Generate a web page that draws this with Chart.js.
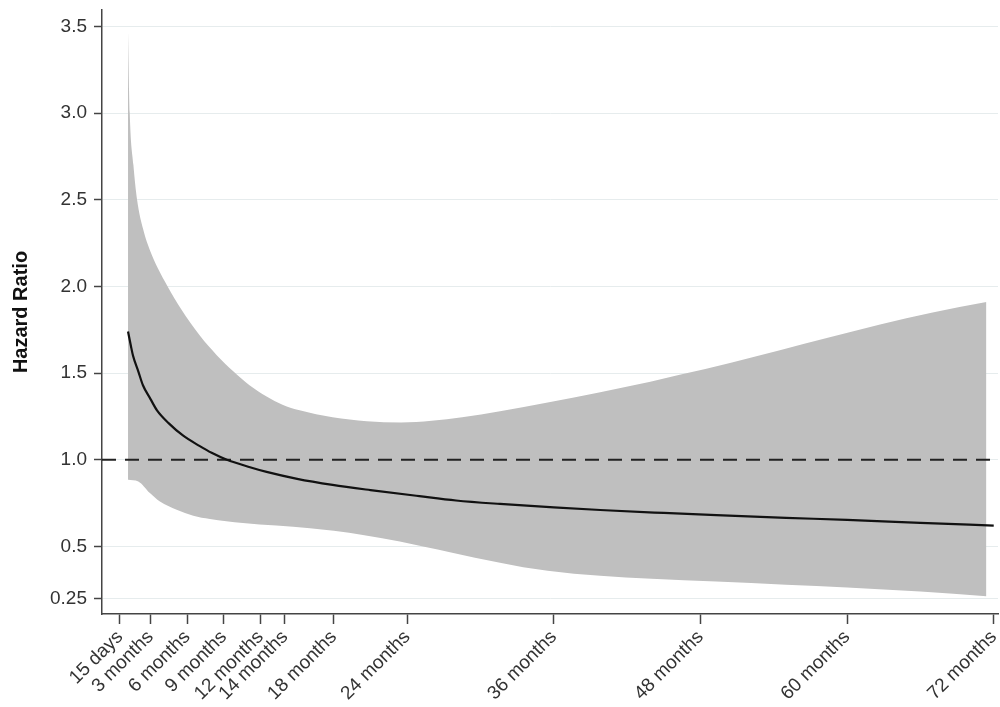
<!DOCTYPE html>
<html>
<head>
<meta charset="utf-8">
<script src="https://cdn.jsdelivr.net/npm/chart.js@4"></script>
<style>
  body { margin: 0; background: #fff; }
  #wrap { width: 1000px; height: 707px; }
</style>
</head>
<body>
<div id="wrap"><canvas id="hrChart"></canvas></div>
<script>
// x in months since start
const hrMonths = [1.16, 1.4, 1.57, 2.0, 2.38, 3.0, 3.53, 4.5, 5.65, 7.0, 8.0, 9.25, 11.0, 12.5, 15.0, 17.9, 21.0, 25.0, 28.0, 31.6, 36.0, 39.8, 45.0, 49.3, 55.0, 60.0, 66.0, 72.0];
const hrValues = [1.74, 1.655, 1.60, 1.51, 1.43, 1.35, 1.285, 1.21, 1.14, 1.08, 1.04, 1.0, 0.96, 0.93, 0.89, 0.855, 0.825, 0.79, 0.765, 0.745, 0.725, 0.71, 0.693, 0.68, 0.665, 0.653, 0.636, 0.62];

const upperMonths = [1.16, 1.3, 1.6, 1.9, 2.4, 3.0, 3.6, 4.4, 5.5, 7.05, 8.4, 9.77, 11.1, 12.5, 13.8, 15.2, 17.9, 20.7, 23.5, 26.0, 28.5, 31.6, 35.5, 39.8, 43.9, 46.3, 50.5, 54.5, 58.5, 62.7, 67.0, 71.4];
const upperValues = [3.47, 3.0, 2.7, 2.5, 2.33, 2.2, 2.105, 2.0, 1.87, 1.715, 1.605, 1.51, 1.43, 1.365, 1.318, 1.285, 1.245, 1.222, 1.215, 1.225, 1.245, 1.28, 1.33, 1.39, 1.45, 1.49, 1.56, 1.632, 1.705, 1.78, 1.85, 1.91];

const lowerMonths = [1.16, 2.0, 2.95, 3.77, 5.14, 6.5, 7.86, 10.56, 13.3, 16.05, 18.0, 20.5, 23.4, 25.5, 27.5, 31.6, 33.5, 35.5, 39.8, 44.0, 49.3, 55.0, 60.0, 66.0, 71.4];
const lowerValues = [0.885, 0.875, 0.808, 0.759, 0.712, 0.677, 0.658, 0.635, 0.62, 0.605, 0.59, 0.565, 0.528, 0.497, 0.467, 0.405, 0.38, 0.36, 0.33, 0.313, 0.297, 0.279, 0.263, 0.24, 0.213];

const xTickValues = [0.5, 3, 6, 9, 12, 14, 18, 24, 36, 48, 60, 72];
const xTickLabels = ['15 days', '3 months', '6 months', '9 months', '12 months', '14 months', '18 months', '24 months', '36 months', '48 months', '60 months', '72 months'];
const yTickValues = [0.2, 0.5, 1.0, 1.5, 2.0, 2.5, 3.0, 3.5];
const yTickLabels = ['0.25', '0.5', '1.0', '1.5', '2.0', '2.5', '3.0', '3.5'];
const refLevel = 1.0;

const X_MIN = -0.97, X_MAX = 72.35;

function pts(xs, ys) {
    return xs.map((x, i) => ({ x: x, y: ys[i] }));
}

const axisColor = '#444';
const textColor = '#333';
const fontFamily = 'Liberation Sans, Arial, sans-serif';

new Chart(document.getElementById('hrChart'), {
    type: 'line',
    data: {
        datasets: [
            {
                label: 'lower',
                data: pts(lowerMonths, lowerValues),
                borderWidth: 0,
                pointRadius: 0,
                fill: false,
                cubicInterpolationMode: 'monotone'
            },
            {
                label: 'upper',
                data: pts(upperMonths, upperValues),
                borderWidth: 0,
                pointRadius: 0,
                backgroundColor: '#bfbfbf',
                fill: '-1',
                cubicInterpolationMode: 'monotone'
            },
            {
                label: 'Hazard Ratio',
                data: pts(hrMonths, hrValues),
                borderColor: '#111',
                borderWidth: 2.2,
                pointRadius: 0,
                fill: false,
                cubicInterpolationMode: 'monotone'
            },
            {
                label: 'ref',
                data: [{ x: X_MIN, y: refLevel }, { x: X_MAX, y: refLevel }],
                borderColor: '#222',
                borderWidth: 2,
                borderDash: [14, 9],
                pointRadius: 0,
                fill: false
            }
        ]
    },
    options: {
        responsive: true,
        maintainAspectRatio: false,
        animation: false,
        layout: { padding: { top: 10, right: 2, left: 0, bottom: 0 } },
        scales: {
            x: {
                type: 'linear',
                min: X_MIN,
                max: X_MAX,
                afterBuildTicks: (axis) => { axis.ticks = xTickValues.map(v => ({ value: v })); },
                afterFit: (axis) => {
                    axis.height = 93;
                    axis.paddingLeft = 0;
                    axis.paddingRight = 0;
                },
                ticks: {
                    autoSkip: false,
                    minRotation: 45,
                    maxRotation: 45,
                    padding: 2,
                    color: textColor,
                    font: { family: fontFamily, size: 19 },
                    callback: (value, index) => xTickLabels[index]
                },
                grid: { drawOnChartArea: false, tickLength: 10, tickColor: axisColor, tickWidth: 1.5 },
                border: { color: axisColor, width: 1.5 }
            },
            y: {
                min: 0.11,
                max: 3.595,
                afterBuildTicks: (axis) => { axis.ticks = yTickValues.map(v => ({ value: v })); },
                afterFit: (axis) => {
                    axis.width = 102;
                    axis.paddingTop = 0;
                    axis.paddingBottom = 0;
                },
                ticks: {
                    autoSkip: false,
                    padding: 7,
                    color: textColor,
                    font: { family: fontFamily, size: 19 },
                    callback: (value, index) => yTickLabels[index]
                },
                grid: { color: '#e6eced', lineWidth: 1, tickLength: 8, tickColor: axisColor, tickWidth: 1.5 },
                border: { color: axisColor, width: 1.5 },
                title: {
                    display: true,
                    text: 'Hazard Ratio',
                    color: '#111',
                    padding: { top: 9, bottom: 0 },
                    font: { family: fontFamily, size: 20, weight: 'bold' }
                }
            }
        },
        plugins: {
            filler: { drawTime: 'beforeDatasetsDraw' },
            legend: { display: false },
            tooltip: { enabled: false }
        }
    }
});
</script>
</body>
</html>
